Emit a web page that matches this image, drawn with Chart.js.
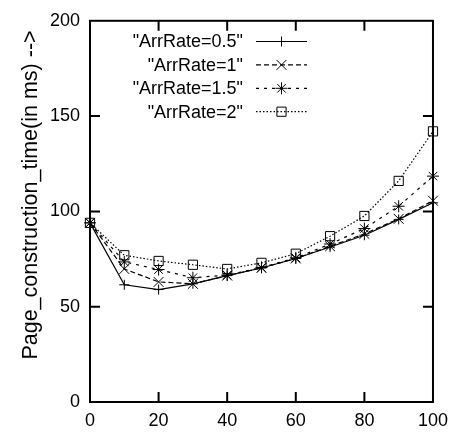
<!DOCTYPE html>
<html>
<head>
<meta charset="utf-8">
<script src="https://cdn.jsdelivr.net/npm/chart.js@4.4.1/dist/chart.umd.min.js"></script>
<style>
  html, body { margin: 0; padding: 0; background: #fff; }
  #wrap { width: 456px; height: 437px; }
</style>
</head>
<body>
<div id="wrap"><canvas id="myChart" width="456" height="437"></canvas></div>
<script>
// values
const xValues = [0, 10, 20, 30, 40, 50, 60, 70, 80, 90, 100];
const rate05 = [94, 61.5, 59, 62, 66.3, 70.3, 75.3, 81.3, 87.5, 95.8, 104.5];
const rate1 = [94, 69.8, 63, 62, 66.3, 70.3, 75.3, 81.7, 88.2, 96.1, 105.6];
const rate15 = [94, 73.5, 69.5, 65.2, 66.6, 70.6, 75.6, 82.9, 91, 102.7, 118.5];
const rate2 = [94, 77, 74, 72, 69.8, 73, 77.8, 87, 97.6, 116, 142];
const seriesLabels = ['"ArrRate=0.5"', '"ArrRate=1"', '"ArrRate=1.5"', '"ArrRate=2"'];
const xTicks = [0, 20, 40, 60, 80, 100];
const yTicks = [0, 50, 100, 150, 200];
const yTitle = 'Page_construction_time(in ms) -->';

const FONT = "'Liberation Sans', Arial, sans-serif";

function toPoints(ys) {
  return ys.map((y, i) => ({ x: xValues[i], y: y }));
}

// ticks pointing inward, box around plot, y title, legend (gnuplot look)
const gnuplotBits = {
  id: 'gnuplotBits',
  afterDatasetsDraw(chart) {
    const ctx = chart.ctx;
    const a = chart.chartArea;
    const xs = chart.scales.x, ys = chart.scales.y;
    ctx.save();
    ctx.strokeStyle = '#000';
    ctx.lineWidth = 2;
    ctx.strokeRect(a.left, a.top, a.right - a.left, a.bottom - a.top);
    ctx.beginPath();
    xTicks.slice(1, -1).forEach(v => {
      const px = xs.getPixelForValue(v);
      ctx.moveTo(px, a.bottom); ctx.lineTo(px, a.bottom - 10);
      ctx.moveTo(px, a.top); ctx.lineTo(px, a.top + 10);
    });
    yTicks.slice(1, -1).forEach(v => {
      const py = ys.getPixelForValue(v);
      ctx.moveTo(a.left, py); ctx.lineTo(a.left + 10, py);
      ctx.moveTo(a.right, py); ctx.lineTo(a.right - 10, py);
    });
    ctx.stroke();

    // y title
    ctx.fillStyle = '#000';
    ctx.font = '21.5px ' + FONT;
    ctx.textAlign = 'center';
    ctx.textBaseline = 'middle';
    ctx.translate(31, 195);
    ctx.rotate(-Math.PI / 2);
    ctx.fillText(yTitle, 0, 0);
    ctx.restore();

    // legend
    ctx.save();
    ctx.font = '18px ' + FONT;
    ctx.textAlign = 'right';
    ctx.textBaseline = 'middle';
    chart.data.datasets.forEach((ds, i) => {
      const y = 41.5 + i * 23.4;
      ctx.fillStyle = '#000';
      ctx.fillText(ds.label, 243, y + 1);
      ctx.strokeStyle = '#000';
      ctx.lineWidth = ds.borderWidth;
      ctx.setLineDash(ds.borderDash || []);
      ctx.beginPath();
      ctx.moveTo(256, y); ctx.lineTo(307, y);
      ctx.stroke();
      ctx.setLineDash([]);
      ctx.lineWidth = 1;
      ctx.fillStyle = 'rgba(0,0,0,0)';
      Chart.helpers.drawPoint(ctx, {
        pointStyle: ds.pointStyle, radius: ds.pointRadius, rotation: 0, borderWidth: 1
      }, 281.5, y);
    });
    ctx.restore();
  }
};

const common = {
  borderColor: '#000',
  pointBorderColor: '#000',
  pointBackgroundColor: 'rgba(0,0,0,0)',
  pointBorderWidth: 1,
  borderWidth: 1.2,
  fill: false,
  tension: 0,
  clip: false
};

const ctx = document.getElementById('myChart').getContext('2d');
new Chart(ctx, {
  type: 'line',
  data: {
    datasets: [
      Object.assign({}, common, { label: seriesLabels[0], data: toPoints(rate05), pointStyle: 'cross', pointRadius: 5, borderDash: [] }),
      Object.assign({}, common, { label: seriesLabels[1], data: toPoints(rate1), pointStyle: 'crossRot', pointRadius: 7, borderDash: [5, 3] }),
      Object.assign({}, common, { label: seriesLabels[2], data: toPoints(rate15), pointStyle: 'star', pointRadius: 6, borderDash: [3, 5] }),
      Object.assign({}, common, { label: seriesLabels[3], data: toPoints(rate2), pointStyle: 'rect', pointRadius: 6.5, borderDash: [1.5, 2] })
    ]
  },
  options: {
    responsive: false,
    animation: false,
    layout: { padding: { left: 0, right: 18, top: 19, bottom: 0 } },
    plugins: { legend: { display: false }, tooltip: { enabled: false } },
    scales: {
      x: {
        type: 'linear',
        min: 0,
        max: 100,
        afterFit(scale) { scale.height = 35; },
        afterBuildTicks(scale) { scale.ticks = xTicks.map(v => ({ value: v })); },
        grid: { display: false, drawTicks: false },
        border: { display: false },
        ticks: { padding: 8, color: '#000', font: { family: FONT, size: 18 }, maxRotation: 0 }
      },
      y: {
        min: 0,
        max: 200,
        afterFit(scale) { scale.width = 90; },
        afterBuildTicks(scale) { scale.ticks = yTicks.map(v => ({ value: v })); },
        grid: { display: false, drawTicks: false },
        border: { display: false },
        ticks: { padding: 10, color: '#000', font: { family: FONT, size: 18 } }
      }
    }
  },
  plugins: [gnuplotBits]
});
</script>
</body>
</html>
